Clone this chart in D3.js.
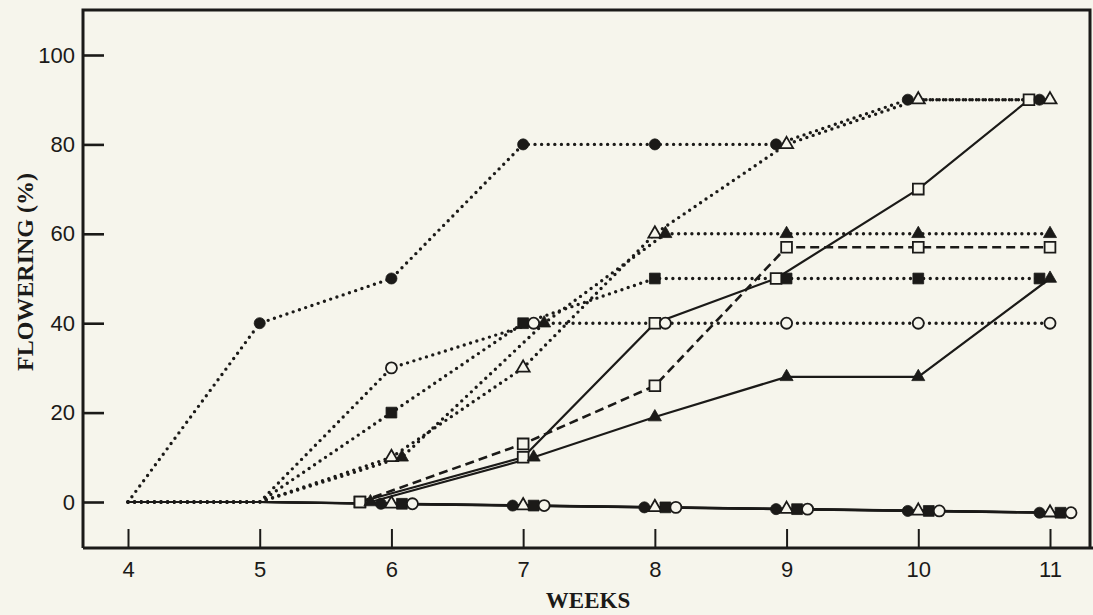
<!DOCTYPE html>
<html>
<head>
<meta charset="utf-8">
<script src="https://cdn.jsdelivr.net/npm/d3@7"></script>
<style>
  html, body { margin: 0; padding: 0; background: #f6f5ec; }
  svg { display: block; }
</style>
</head>
<body>
<svg id="chart" width="1093" height="615"></svg>
<script>
const WIDTH = 1093;
const HEIGHT = 615;
const INK = "#1b1a18";
const PAPER = "#f6f5ec";

// plot frame (pixels)
const LEFT = 83, RIGHT = 1090, TOP = 10, BOTTOM = 548;

const weeks = [4, 5, 6, 7, 8, 9, 10, 11];
const yTicks = [0, 20, 40, 60, 80, 100];

// flowering (%) per week, null = not recorded
const dottedFilledCircle = [0, 40, 50, 80, 80, 80, 90, 90];
const dottedOpenTriangle = [0, 0, 10, 30, 60, 80, 90, 90];
const dottedFilledTriangle = [0, 0, 10, 40, 60, 60, 60, 60];
const dottedFilledSquare = [0, 0, 20, 40, 50, 50, 50, 50];
const dottedOpenCircle = [0, 0, 30, 40, 40, 40, 40, 40];
const solidOpenSquare = [null, null, 0, 10, 40, 50, 70, 90];
const solidFilledTriangle = [null, null, 0, 10, 19, 28, 28, 50];
const dashedOpenSquare = [null, null, 0, 13, 26, 57, 57, 57];
const controlZero = [0, 0, -0.4, -0.8, -1.2, -1.6, -2, -2.4]; // drawn line sags slightly

// listed in the left-to-right order used when markers share a spot
const series = [
    { values: solidOpenSquare, shape: "square", filled: false, line: "solid" },
    { values: dashedOpenSquare, shape: "square", filled: false, line: "dashed" },
    { values: dottedFilledSquare, shape: "square", filled: true, line: "dotted" },
    { values: solidFilledTriangle, shape: "triangle", filled: true, line: "solid" },
    { values: dottedFilledCircle, shape: "circle", filled: true, line: "dotted" },
    { values: dottedOpenTriangle, shape: "triangle", filled: false, line: "dotted" },
    { values: controlZero, shape: "circle", filled: true, line: "solid" },
    { values: controlZero, shape: "triangle", filled: false, line: "solid" },
    { values: controlZero, shape: "square", filled: true, line: "solid" },
    { values: controlZero, shape: "circle", filled: false, line: "solid" },
    { values: dottedOpenCircle, shape: "circle", filled: false, line: "dotted" },
    { values: dottedFilledTriangle, shape: "triangle", filled: true, line: "dotted" }
];

const x = d3.scaleLinear().domain([4, 11]).range([128, 1050]);
const y = d3.scaleLinear().domain([0, 100]).range([502, 55]);

const svg = d3.select("#chart");
svg.append("rect").attr("width", WIDTH).attr("height", HEIGHT).attr("fill", PAPER);

// points, with a marker only once the week is 6 or the value has left zero
const points = series.map((s, si) => s.values.map((v, i) => ({
    series: si, week: weeks[i], value: v, dx: 0,
    marked: v != null && (weeks[i] >= 6 || v > 0)
})));

// spread markers that land on the same spot sideways, like the original drawing
const SLOT = 10.5;
weeks.forEach((w, wi) => {
    const here = points.map(p => p[wi]).filter(p => p.marked).sort((a, b) => a.value - b.value);
    const groups = [];
    here.forEach(p => {
        const g = groups.find(g => Math.abs(g[0].value - p.value) <= 1);
        if (g) g.push(p); else groups.push([p]);
    });
    groups.forEach(g => {
        g.sort((a, b) => a.series - b.series);
        const slots = [];
        g.forEach(p => {
            const s = series[p.series];
            let slot = slots.findIndex(k => k.shape === s.shape && k.filled === s.filled);
            if (slot < 0) { slots.push({ shape: s.shape, filled: s.filled }); slot = slots.length - 1; }
            p.slot = slot;
        });
        let anchor = slots.findIndex(k => k.shape === "triangle" && !k.filled);
        if (anchor < 0) anchor = w >= 9 ? slots.length - 1 : 0;
        g.forEach(p => { p.dx = (p.slot - anchor) * SLOT; });
    });
});

// axes
const yAxis = d3.axisLeft(y).tickValues(yTicks).tickSize(-21).tickSizeOuter(0).tickPadding(8);
const gy = svg.append("g").attr("transform", `translate(${LEFT},0)`).call(yAxis);
gy.select(".domain").remove();
gy.selectAll(".tick line").attr("stroke", INK).attr("stroke-width", 2.6);
gy.selectAll(".tick text").attr("fill", INK)
    .style("font-family", "'Liberation Sans', Arial, sans-serif").style("font-size", "22px");

const xAxis = d3.axisBottom(x).tickValues(weeks).tickFormat(d3.format("d"))
    .tickSize(-19).tickSizeOuter(0).tickPadding(13);
const gx = svg.append("g").attr("transform", `translate(0,${BOTTOM})`).call(xAxis);
gx.select(".domain").remove();
gx.selectAll(".tick line").attr("stroke", INK).attr("stroke-width", 2);
gx.selectAll(".tick text").attr("fill", INK)
    .style("font-family", "'Liberation Sans', Arial, sans-serif").style("font-size", "22px");

// frame
svg.append("path")
    .attr("d", `M${LEFT},${BOTTOM} V${TOP} H${RIGHT} V${BOTTOM} M${LEFT},${BOTTOM} H${WIDTH}`)
    .attr("fill", "none").attr("stroke", INK).attr("stroke-width", 3);

// titles
svg.append("text")
    .attr("transform", `translate(33,272) rotate(-90)`)
    .attr("text-anchor", "middle")
    .attr("fill", INK)
    .style("font-family", "'Liberation Serif', 'Times New Roman', serif")
    .style("font-weight", "bold").style("font-size", "24px")
    .text("FLOWERING (%)");

svg.append("text")
    .attr("x", 588).attr("y", 608)
    .attr("text-anchor", "middle")
    .attr("fill", INK)
    .style("font-family", "'Liberation Serif', 'Times New Roman', serif")
    .style("font-weight", "bold").style("font-size", "23px")
    .text("WEEKS");

// lines
const line = d3.line()
    .defined(d => d.value != null)
    .x(d => x(d.week) + d.dx)
    .y(d => y(d.value));

const lineStyle = {
    solid: { width: 2.2, dash: null, cap: "butt" },
    dashed: { width: 2.6, dash: "9 5", cap: "butt" },
    dotted: { width: 3.4, dash: "0 6.6", cap: "round" }
};

svg.append("g").selectAll("path")
    .data(series.map((s, i) => ({ s, pts: points[i] })))
    .join("path")
    .attr("d", d => line(d.pts))
    .attr("fill", "none")
    .attr("stroke", INK)
    .attr("stroke-width", d => lineStyle[d.s.line].width)
    .attr("stroke-dasharray", d => lineStyle[d.s.line].dash)
    .attr("stroke-linecap", d => lineStyle[d.s.line].cap);

// markers
const symbolType = { circle: d3.symbolCircle, square: d3.symbolSquare, triangle: d3.symbolTriangle };
const symbolSize = { circle: 96, square: 116, triangle: 74 };

const marks = points.flat().filter(p => p.marked);
svg.append("g").selectAll("path")
    .data(marks)
    .join("path")
    .attr("transform", p => `translate(${x(p.week) + p.dx},${y(p.value)})`)
    .attr("d", p => d3.symbol(symbolType[series[p.series].shape], symbolSize[series[p.series].shape])())
    .attr("fill", p => series[p.series].filled ? INK : PAPER)
    .attr("stroke", INK)
    .attr("stroke-width", p => series[p.series].filled ? 0.8 : 1.8);
</script>
</body>
</html>
